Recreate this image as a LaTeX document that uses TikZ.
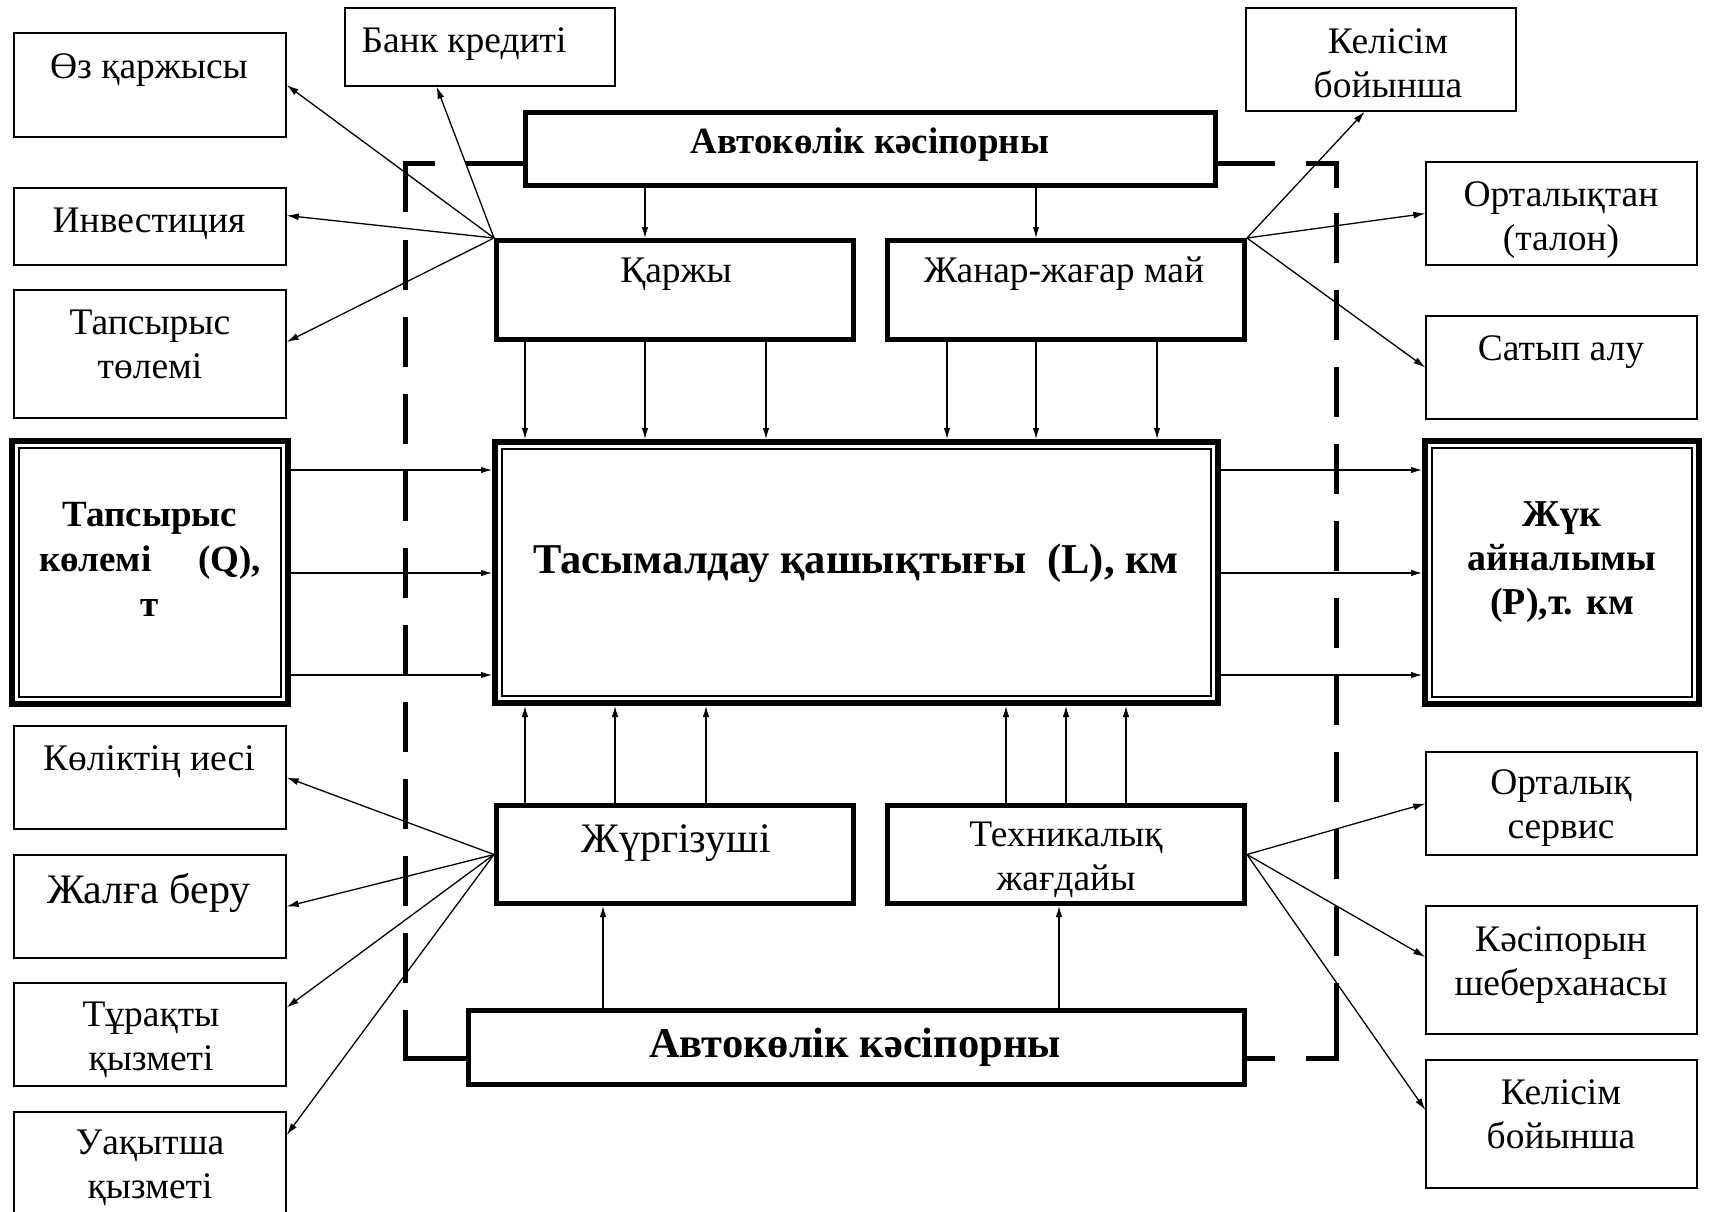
\documentclass[tikz,border=0pt]{standalone}
\usepackage{fontspec}
\setmainfont{Liberation Serif}
\usetikzlibrary{arrows.meta,calc}
\begin{document}
\begin{tikzpicture}[x=1pt,y=-1pt,
 sbox/.style={draw,line width=1.3pt,inner sep=0pt},
 tbox/.style={draw,line width=5pt,inner sep=0pt},
 dbox/.style={draw,line width=6pt,inner sep=0pt},
 txt/.style={inner sep=0pt,anchor=base,align=center,font=\fontsize{37.5}{44}\selectfont},
 btxt/.style={inner sep=0pt,anchor=base,align=center,font=\bfseries\fontsize{37.5}{44}\selectfont},
 arr/.style={line width=1.1pt,-{Latex[length=11pt,width=6.5pt]}},
 fan/.style={line width=1.3pt,-{Latex[length=12pt,width=7pt]}},
 frame/.style={line width=5pt}]
\useasboundingbox (0,0) rectangle (1710,1211);
\clip (0,0) rectangle (1710,1211);

% dashed frame
\draw[frame] (523,163) -- (466,163);
\draw[frame] (435,163) -- (405,163) -- (405,212);
\draw[frame,dash pattern=on 50pt off 27pt] (405,240) -- (405,983);
\draw[frame] (405,1010) -- (405,1058) -- (466,1058);
\draw[frame] (1218,163) -- (1275,163);
\draw[frame] (1306,163) -- (1336,163) -- (1336,188);
\draw[frame,dash pattern=on 50pt off 27pt] (1336,213) -- (1336,956);
\draw[frame] (1336,983) -- (1336,1058) -- (1306,1058);
\draw[frame] (1275,1058) -- (1247,1058);

% thick boxes
\node[tbox,minimum width=690,minimum height=73] (avtoT) at (870.5,149) {};
\node[tbox,minimum width=357,minimum height=99] (qar) at (675,290) {};
\node[tbox,minimum width=357,minimum height=99] (zhan) at (1066,290) {};
\node[tbox,minimum width=357,minimum height=98] (zhur) at (675,854.5) {};
\node[tbox,minimum width=357,minimum height=98] (tech) at (1066,854.5) {};
\node[tbox,minimum width=776,minimum height=74] (avtoB) at (856.5,1047.5) {};
% double boxes
\node[dbox,minimum width=723,minimum height=261] (cen) at (856.5,572.5) {};
\node[dbox,minimum width=276,minimum height=263] (tap) at (150,572.5) {};
\node[dbox,minimum width=274,minimum height=263] (zhuk) at (1562,572.5) {};
\foreach \n in {cen,tap,zhuk}
  \draw[line width=1.5pt] ([shift={(10pt,-10pt)}]\n.north west) rectangle ([shift={(-10pt,10pt)}]\n.south east);

% small boxes
\node[sbox,minimum width=272,minimum height=104] (oz) at (150,85) {};
\node[sbox,minimum width=270,minimum height=78] (bank) at (480,47) {};
\node[sbox,minimum width=272,minimum height=77] (inv) at (150,226.5) {};
\node[sbox,minimum width=272,minimum height=128] (tol) at (150,354) {};
\node[sbox,minimum width=272,minimum height=103] (kol) at (150,777.5) {};
\node[sbox,minimum width=272,minimum height=103] (zhal) at (150,906.5) {};
\node[sbox,minimum width=272,minimum height=103] (tur) at (150,1034.5) {};
\node[sbox,minimum width=272,minimum height=128] (uaq) at (150,1176) {};
\node[sbox,minimum width=270,minimum height=103] (kel1) at (1381,59.5) {};
\node[sbox,minimum width=271,minimum height=103] (ort) at (1561.5,213.5) {};
\node[sbox,minimum width=271,minimum height=103] (sat) at (1561.5,367.5) {};
\node[sbox,minimum width=271,minimum height=103] (ortS) at (1561.5,803.5) {};
\node[sbox,minimum width=271,minimum height=128] (kas) at (1561.5,970) {};
\node[sbox,minimum width=271,minimum height=128] (kel2) at (1561.5,1124) {};

% texts (anchor=base is the baseline of the last line)
\node[btxt,font=\bfseries\fontsize{37}{44}\selectfont] (avtoTt) at (870,153) {Автокөлік кәсіпорны};
\node[btxt,font=\bfseries\fontsize{42.5}{48}\selectfont] (avtoBt) at (855,1057) {Автокөлік кәсіпорны};
\node[btxt,font=\bfseries\fontsize{42.5}{48}\selectfont] (cent) at (856,573) {Тасымалдау қашықтығы\ \ (L), км};
\node[btxt,font=\bfseries\fontsize{37}{45}\selectfont] (tapt) at (150,616) {Тапсырыс\\\hbox to 222pt{көлемі\hfill(Q),}\\т};
\node[btxt,font=\bfseries\fontsize{38}{44}\selectfont] (zhukt) at (1562,614) {Жүк\\айналымы\\(Р),т. км};
\node[txt] (qart) at (676,282) {Қаржы};
\node[txt] (zhant) at (1064,282) {Жанар-жағар май};
\node[txt,font=\fontsize{42}{48}\selectfont] (zhurt) at (676,852) {Жүргізуші};
\node[txt] (techt) at (1066,890) {Техникалық\\жағдайы};
\node[txt] (ozt) at (149,78) {Өз қаржысы};
\node[txt] (bankt) at (464,52) {Банк кредиті};
\node[txt] (invt) at (149,232) {Инвестиция};
\node[txt] (tolt) at (150,378) {Тапсырыс\\төлемі};
\node[txt] (kel1t) at (1388,97) {Келісім\\бойынша};
\node[txt] (ortt) at (1561,250) {Орталықтан\\(талон)};
\node[txt] (satt) at (1561,360) {Сатып алу};
\node[txt] (kolt) at (149,770) {Көліктің иесі};
\node[txt,font=\fontsize{42}{48}\selectfont] (zhalt) at (149,903) {Жалға беру};
\node[txt] (turt) at (151,1070) {Тұрақты\\қызметі};
\node[txt] (uaqt) at (150,1198) {Уақытша\\қызметі};
\node[txt] (ortSt) at (1561,838) {Орталық\\сервис};
\node[txt] (kast) at (1561,995) {Кәсіпорын\\шеберханасы};
\node[txt] (kel2t) at (1561,1148) {Келісім\\бойынша};

% helper coordinates
\coordinate (xa) at (525,0);
\coordinate (xb) at (645,0);
\coordinate (xc) at (766,0);
\coordinate (xd) at (947,0);
\coordinate (xe) at (1036,0);
\coordinate (xf) at (1157,0);
\coordinate (xg) at (615,0);
\coordinate (xh) at (706,0);
\coordinate (xi) at (1006,0);
\coordinate (xj) at (1066,0);
\coordinate (xk) at (1126,0);
\coordinate (xl) at (603,0);
\coordinate (xm) at (1059,0);
\coordinate (ya) at (0,470);
\coordinate (yb) at (0,573);
\coordinate (yc) at (0,675);

% vertical arrows
\draw[arr] (avtoT.south -| xb) -- (qar.north -| xb);
\draw[arr] (avtoT.south -| xe) -- (zhan.north -| xe);
\foreach \c in {xa,xb,xc} \draw[arr] (qar.south -| \c) -- (cen.north -| \c);
\foreach \c in {xd,xe,xf} \draw[arr] (zhan.south -| \c) -- (cen.north -| \c);
\foreach \c in {xa,xg,xh} \draw[arr] (zhur.north -| \c) -- (cen.south -| \c);
\foreach \c in {xi,xj,xk} \draw[arr] (tech.north -| \c) -- (cen.south -| \c);
\draw[arr] (avtoB.north -| xl) -- (zhur.south -| xl);
\draw[arr] (avtoB.north -| xm) -- (tech.south -| xm);
% horizontal arrows
\foreach \c in {ya,yb,yc} {
  \draw[arr] (tap.east |- \c) -- (cen.west |- \c);
  \draw[arr] (cen.east |- \c) -- (zhuk.west |- \c);
}
% fans
\draw[fan] (qar.north west) -- (oz.east);
\draw[fan] (qar.north west) -- ($(bank.south west)!0.34!(bank.south east)$);
\draw[fan] (qar.north west) -- ([yshift=11pt]inv.east);
\draw[fan] (qar.north west) -- ([yshift=12pt]tol.east);
\draw[fan] (zhan.north east) -- ($(kel1.south west)!0.44!(kel1.south east)$);
\draw[fan] (zhan.north east) -- (ort.west);
\draw[fan] (zhan.north east) -- (sat.west);
\draw[fan] (zhur.west) -- (kol.east);
\draw[fan] (zhur.west) -- (zhal.east);
\draw[fan] (zhur.west) -- ([yshift=27pt]tur.east);
\draw[fan] (zhur.west) -- ([yshift=41pt]uaq.east);
\draw[fan] (tech.east) -- (ortS.west);
\draw[fan] (tech.east) -- ([yshift=13pt]kas.west);
\draw[fan] (tech.east) -- ([yshift=14pt]kel2.west);
\end{tikzpicture}
\end{document}
